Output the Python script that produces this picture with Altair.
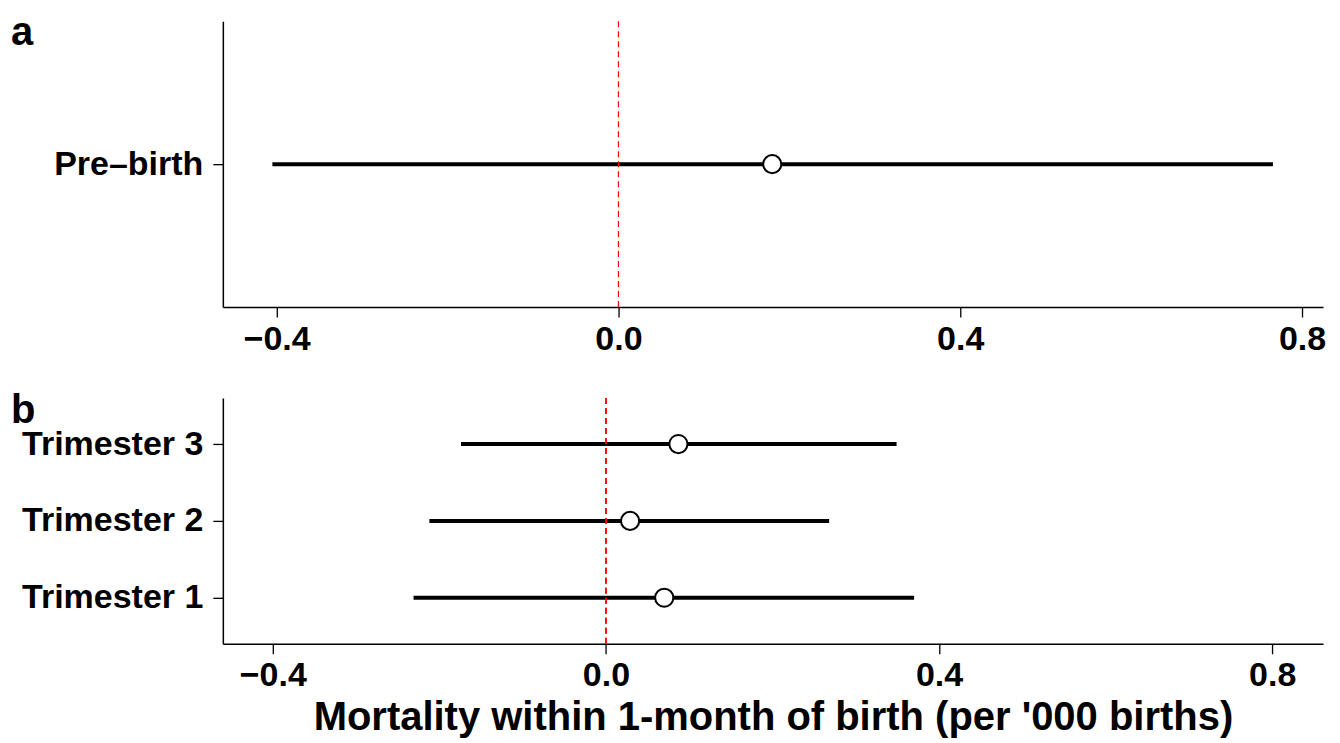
import altair as alt
import pandas as pd

# ---- data ----
panel_a_labels = ["Pre\u2013birth"]
panel_a_est = [0.180]
panel_a_lo = [-0.405]
panel_a_hi = [0.766]

panel_b_labels = ["Trimester 3", "Trimester 2", "Trimester 1"]
panel_b_est = [0.087, 0.029, 0.070]
panel_b_lo = [-0.174, -0.212, -0.231]
panel_b_hi = [0.349, 0.268, 0.370]

x_ticks = [-0.4, 0.0, 0.4, 0.8]
x_title = "Mortality within 1-month of birth (per '000 births)"

FONT = "Liberation Sans"


def panel(labels, est, lo, hi, domain, height, letter, title, ypad, ytext):
    df = pd.DataFrame({"label": labels, "est": est, "lo": lo, "hi": hi})
    xscale = alt.Scale(domain=domain, nice=False, zero=False)
    xaxis = alt.Axis(values=x_ticks, format=".1f", labelPadding=5, tickSize=10,
                     title=title, titlePadding=5)
    yenc = alt.Y("label:N", sort=labels,
                 scale=alt.Scale(type="point", domain=labels, padding=ypad),
                 axis=alt.Axis(title=None, labelPadding=10, tickSize=10,
                               labelLimit=400, minExtent=205, maxExtent=205))
    base = alt.Chart(df)
    zero = base.mark_rule(color="red", strokeDash=[6, 4], strokeWidth=1.2).encode(
        x=alt.datum(0)
    )
    ci = base.mark_rule(color="black", strokeWidth=4).encode(
        x=alt.X("lo:Q", scale=xscale, axis=xaxis),
        x2="hi:Q",
        y=yenc,
    )
    pts = base.mark_circle(size=330, color="white", stroke="black",
                           strokeWidth=2, opacity=1).encode(
        x=alt.X("est:Q"),
        y=yenc,
    )
    lab = alt.Chart(pd.DataFrame({"t": [letter]})).mark_text(
        align="left", baseline="alphabetic", fontSize=40, fontWeight="bold",
        font=FONT, color="black"
    ).encode(text="t:N", x=alt.value(-212), y=alt.value(ytext))
    return alt.layer(ci, zero, pts, lab).properties(width=1101, height=height)


top = panel(panel_a_labels, panel_a_est, panel_a_lo, panel_a_hi,
            [-0.463, 0.8246], 286, "a", None, 0.5, 24)
bottom = panel(panel_b_labels, panel_b_est, panel_b_lo, panel_b_hi,
               [-0.46, 0.861], 246, "b", x_title, 0.6, 25)

chart = alt.vconcat(top, bottom, spacing=33).properties(
    padding={"left": 2, "top": 4, "right": 5, "bottom": 0}
).configure_view(stroke="transparent").configure_axis(
    labelFont=FONT, labelFontWeight="bold", labelFontSize=34, labelColor="black",
    titleFont=FONT, titleFontWeight="bold", titleFontSize=40, titleColor="black",
    domainColor="black", domainWidth=1.5, tickColor="black", tickWidth=1.3,
    grid=False,
)

chart.save("out.html", embed_options={"renderer": "svg", "actions": False})
